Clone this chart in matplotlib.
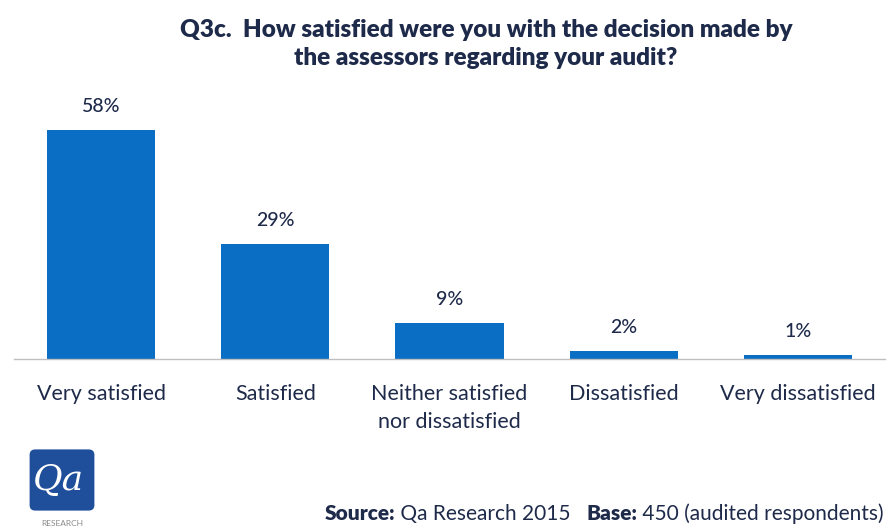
import matplotlib
matplotlib.use("Agg")
import matplotlib.pyplot as plt
from matplotlib.patches import FancyBboxPatch

categories = ["Very satisfied", "Satisfied", "Neither satisfied\nnor dissatisfied",
              "Dissatisfied", "Very dissatisfied"]
values = [58, 29, 9, 2, 1]
value_labels = ["58%", "29%", "9%", "2%", "1%"]

BAR = "#0A6EC4"
TXT = "#1E2A4A"
FONT = "Lato"

fig = plt.figure(figsize=(8.88, 5.27), dpi=100)
W, H = 888, 527
ax = fig.add_axes([14 / W, 1 - 359 / H, (885 - 14) / W, (359 - 90) / H])
x = list(range(len(values)))
ax.bar(x, values, width=0.62, color=BAR)
ax.set_xlim(-0.5, 4.5)
ax.set_ylim(0, 269 / 3.95)
for xi, v, lab in zip(x, values, value_labels):
    ax.text(xi, v + 3.8, lab, ha="center", va="bottom", fontsize=14,
            color=TXT, family=FONT, fontweight="medium")
for s in ["top", "right", "left"]:
    ax.spines[s].set_visible(False)
ax.spines["bottom"].set_color("#BFBFBF")
ax.spines["bottom"].set_linewidth(1.0)
ax.set_yticks([])
ax.set_xticks(x)
ax.set_xticklabels(categories, fontsize=15.5, color=TXT, family=FONT,
                   linespacing=1.52, va="top")
ax.tick_params(axis="x", length=0, pad=18)

fig.text(486 / W, 1 - 44 / H,
         "Q3c.  How satisfied were you with the decision made by\nthe assessors regarding your audit?",
         ha="center", va="center", fontsize=17.5, fontweight="heavy", color=TXT,
         family=FONT, linespacing=1.35)

# source line built from pieces, right-aligned at x=884
pieces = [("Source:", "heavy"), (" Qa Research 2015   ", "normal"),
          ("Base:", "heavy"), (" 450 (audited respondents)", "normal")]
fig.canvas.draw()
renderer = fig.canvas.get_renderer()
texts = []
for s, w in pieces:
    t = fig.text(0, 1 - 514 / H, s, ha="left", va="center", fontsize=15,
                 color=TXT, family=FONT, fontweight=w)
    texts.append(t)
widths = [t.get_window_extent(renderer).width for t in texts]
xpos = 884 - sum(widths)
for t, wd in zip(texts, widths):
    t.set_x(xpos / W)
    xpos += wd

# logo
lax = fig.add_axes([26 / W, 1 - 514 / H, 72 / W, 68 / H])
lax.set_xlim(0, 1)
lax.set_ylim(0, 1)
lax.axis("off")
lax.add_patch(FancyBboxPatch((0.05, 0.05), 0.9, 0.9,
                             boxstyle="round,pad=0,rounding_size=0.08",
                             facecolor="#1F4E9A", edgecolor="none"))
lax.text(0.45, 0.5, "Qa", ha="center", va="center", fontsize=26,
         color="white", family="DejaVu Serif", style="italic")
fig.text(62 / W, 1 - 523 / H, "RESEARCH", ha="center", va="center",
         fontsize=6, color="#8A8A8A", family=FONT)

fig.savefig("out.png", dpi=100)
